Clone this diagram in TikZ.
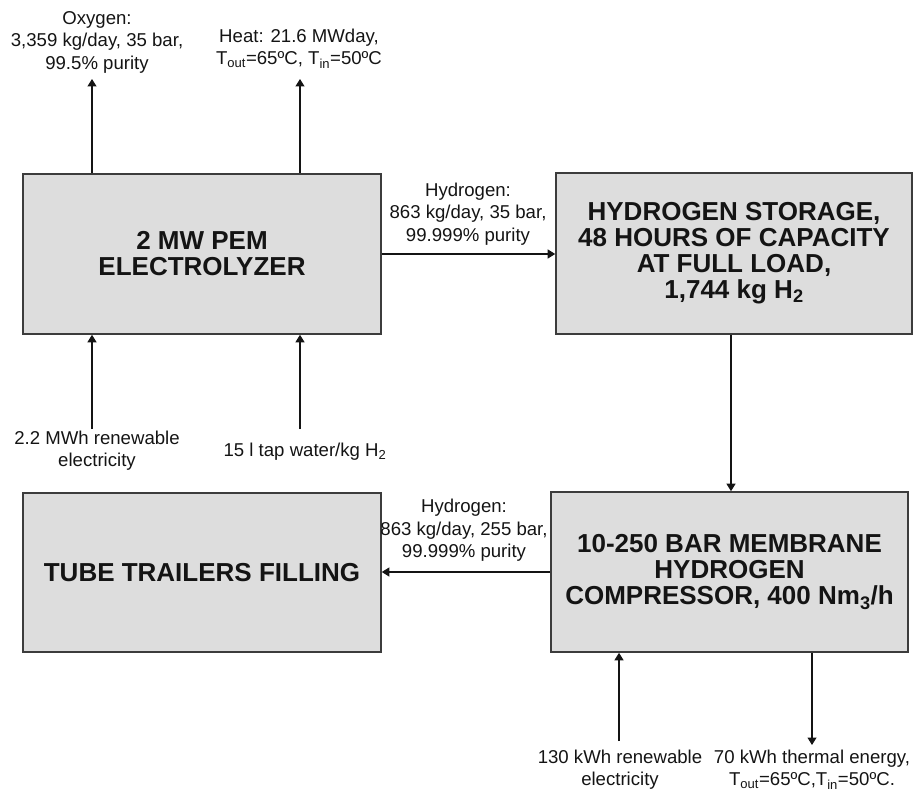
\documentclass[tikz,border=0pt]{standalone}
\usepackage{fontspec}
\setmainfont{Liberation Sans}
\usetikzlibrary{arrows.meta}
\definecolor{boxfill}{RGB}{221,221,221}
\definecolor{boxline}{RGB}{60,60,60}
\definecolor{ink}{RGB}{20,20,20}
\begin{document}
\begin{tikzpicture}[x=1pt,y=-1pt,
  box/.style={draw=boxline,fill=boxfill,line width=1.6pt,inner sep=0pt,align=center,
    font=\fontsize{26}{26}\selectfont\bfseries,text=ink},
  lbl/.style={inner sep=0pt,align=center,font=\fontsize{18.6}{22.5}\selectfont,text=ink},
  arr/.style={-{Triangle[width=9pt,length=7.5pt]},line width=1.2pt,draw=ink}]
\useasboundingbox (0,0) rectangle (915,791);
% boxes
\node[box,minimum width=358pt,minimum height=160pt] (el) at (202,254) {2 MW PEM\\ELECTROLYZER};
\node[box,minimum width=356pt,minimum height=161pt] (st) at (734,253.5) {HYDROGEN STORAGE,\\48 HOURS OF CAPACITY\\AT FULL LOAD,\\1,744 kg H\textsubscript{2}};
\node[box,minimum width=358pt,minimum height=159pt] (tt) at (202,572.5) {TUBE TRAILERS FILLING};
\node[box,minimum width=357pt,minimum height=160pt] (cm) at (729.5,572) {10-250 BAR MEMBRANE\\HYDROGEN\\COMPRESSOR, 400 Nm\textsubscript{3}/h};
% labels
\node[lbl] (ox) at (97,42) {Oxygen:\\3,359 kg/day, 35 bar,\\99.5\% purity};
\node[lbl] (ht) at (299,48.5) {Heat: 21.6 MWday,\\T\textsubscript{out}=65ºC, T\textsubscript{in}=50ºC};
\node[lbl] (ee) at (97,450.5) {2.2 MWh renewable\\electricity};
\node[lbl] (tw) at (305,452) {15 l tap water/kg H\textsubscript{2}};
\node[lbl] (h1) at (468,214) {Hydrogen:\\863 kg/day, 35 bar,\\99.999\% purity};
\node[lbl] (h2) at (464,530.5) {Hydrogen:\\863 kg/day, 255 bar,\\99.999\% purity};
\node[lbl] (ce) at (620,769.5) {130 kWh renewable\\electricity};
\node[lbl] (th) at (812,769.5) {70 kWh thermal energy,\\T\textsubscript{out}=65ºC,T\textsubscript{in}=50ºC.};
% free ends
\coordinate (oxT) at (92,79);
\coordinate (htT) at (300,79);
\coordinate (eeS) at (92,429);
\coordinate (twS) at (300,429);
\coordinate (vx) at (731,0);
\coordinate (ceS) at (619,741);
\coordinate (thT) at (812,745);
% connectors
\draw[arr] (el.north -| oxT) -- (oxT);
\draw[arr] (el.north -| htT) -- (htT);
\draw[arr] (eeS) -- (el.south -| eeS);
\draw[arr] (twS) -- (el.south -| twS);
\draw[arr] (el.east) -- (el.east -| st.west);
\draw[arr] (st.south -| vx) -- (cm.north -| vx);
\draw[arr] (cm.west) -- (cm.west -| tt.east);
\draw[arr] (ceS) -- (cm.south -| ceS);
\draw[arr] (cm.south -| thT) -- (thT);
\end{tikzpicture}
\end{document}
